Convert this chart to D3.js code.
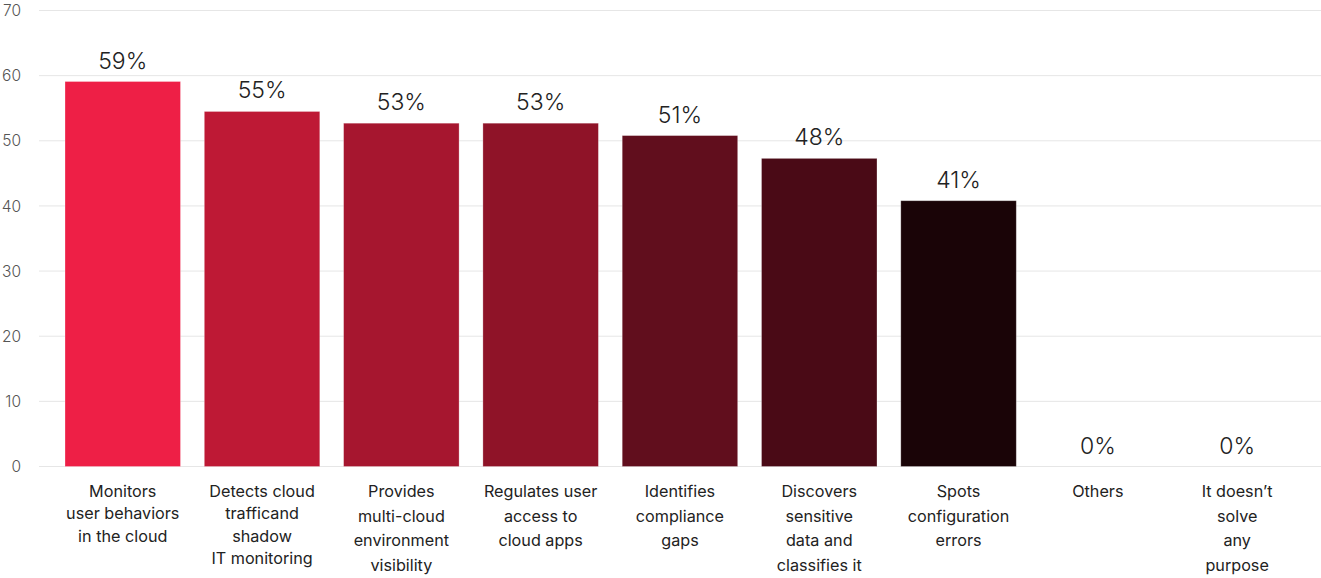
<!DOCTYPE html>
<html><head><meta charset="utf-8">
<script src="https://cdn.jsdelivr.net/npm/d3@7"></script>
<style>
html,body{margin:0;padding:0;background:#fff;}
svg{display:block;}
</style></head>
<body>
<svg id="chart" width="1321" height="578"></svg>
<script>
const categories = [
  ["Monitors","user behaviors","in the cloud"],
  ["Detects cloud","trafficand","shadow","IT monitoring"],
  ["Provides","multi-cloud","environment","visibility"],
  ["Regulates user","access to","cloud apps"],
  ["Identifies","compliance","gaps"],
  ["Discovers","sensitive","data and","classifies it"],
  ["Spots","configuration","errors"],
  ["Others"],
  ["It doesn\u2019t","solve","any","purpose"]
];
const values = [59.1, 54.5, 52.7, 52.7, 50.8, 47.3, 40.8, 0, 0];
const valueLabels = ["59%","55%","53%","53%","51%","48%","41%","0%","0%"];
const colors = ["#EE1F46","#BE1935","#A6162F","#8F1328","#610E1D","#4A0A16","#1A0407","#1A0407","#1A0407"];
const yTicks = [0,10,20,30,40,50,60,70];

const svg = d3.select("#chart");
const font = "Inter, 'Noto Sans', sans-serif";
const keys = categories.map((c,i)=>i);

const x = d3.scaleBand().domain(keys).range([53.1, 1306.8]).paddingInner(0.171).paddingOuter(0.0855);
const y = d3.scaleLinear().domain([0,70]).range([466.5, 10.5]);

// grid
svg.append("g").selectAll("line").data(yTicks).join("line")
  .attr("x1", 39).attr("x2", 1321)
  .attr("y1", d=>y(d)).attr("y2", d=>y(d))
  .attr("stroke", "#e6e6e6").attr("stroke-width", 1);

// y tick labels
svg.append("g").selectAll("text").data(yTicks).join("text")
  .attr("x", 21).attr("y", d=>y(d)).attr("dy","0.36em")
  .attr("text-anchor","end")
  .attr("font-family", font).attr("font-size", 15.5).attr("font-weight", 300)
  .attr("fill","#555").text(d=>d);

// bars
svg.append("g").selectAll("rect").data(keys).join("rect")
  .attr("x", i=>x(i)).attr("width", x.bandwidth())
  .attr("y", i=>y(values[i])).attr("height", i=>y(0)-y(values[i]))
  .attr("fill", i=>colors[i])
  .attr("stroke", "rgba(255,255,255,0.35)").attr("stroke-width", 0.8);

// value labels
svg.append("g").selectAll("text").data(keys).join("text")
  .attr("x", i=>x(i)+x.bandwidth()/2)
  .attr("y", i=>y(values[i]) - 13)
  .attr("text-anchor","middle")
  .attr("font-family", font).attr("font-size", 23).attr("font-weight", 300)
  .attr("fill","#222").text(i=>valueLabels[i]);

// category labels
const cat = svg.append("g").selectAll("text").data(keys).join("text")
  .attr("x", i=>x(i)+x.bandwidth()/2)
  .attr("y", 497)
  .attr("text-anchor","middle")
  .attr("font-family", font).attr("font-size", 16.2).attr("font-weight", 400)
  .attr("fill","#222");
cat.selectAll("tspan").data(i=>categories[i].map(l=>({l,i}))).join("tspan")
  .attr("x", d=>x(d.i)+x.bandwidth()/2)
  .attr("dy", (d,j)=> j===0 ? 0 : (d.i < 2 ? 22.3 : 24.5))
  .text(d=>d.l);
</script>
</body></html>
